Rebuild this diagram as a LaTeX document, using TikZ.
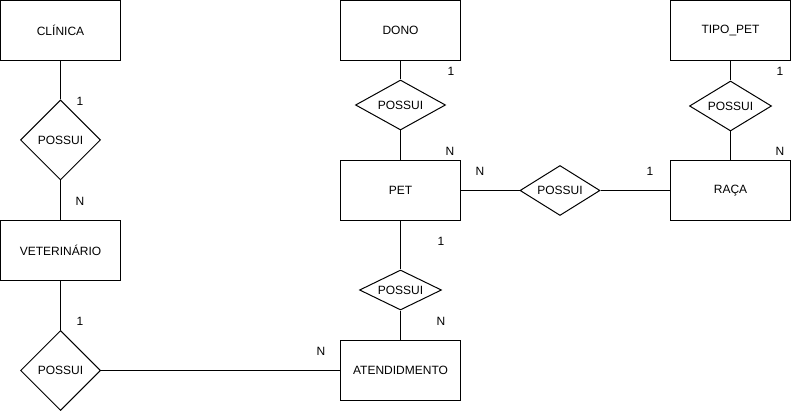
\documentclass[tikz,border=0pt]{standalone}
\usepackage{fontspec}
\setmainfont{Liberation Sans}
\usetikzlibrary{shapes.geometric}

\begin{document}
\begin{tikzpicture}[x=1pt,y=-1pt,line width=1pt,every node/.style={font=\fontsize{12}{14}\selectfont},
    entity/.style={draw,rectangle,minimum width=120pt,minimum height=60pt,inner sep=0pt},
    relation/.style={draw,diamond,aspect=1.6,inner sep=0pt},
    card/.style={inner sep=0pt,anchor=center}]
    \useasboundingbox (0,0) rectangle (792,411);
    \node[entity] (clinica) at (60.5,30.5) {CLÍNICA};
    \node[entity] (vet) at (60.5,250.5) {VETERINÁRIO};
    \node[entity] (dono) at (400.5,30.5) {DONO};
    \node[entity] (pet) at (400.5,190.5) {PET};
    \node[entity] (atend) at (400.5,370.5) {ATENDIDMENTO};
    \node[entity] (tipo) at (730.5,30.5) {TIPO\_PET};
    \node[entity] (raca) at (730.5,190.5) {RAÇA};
    \node[relation,minimum width=80pt,minimum height=80pt] (clinvet) at (60.5,140) {POSSUI};
    \node[relation,minimum width=90pt,minimum height=50pt] (donopet) at (400.5,105) {POSSUI};
    \node[relation,minimum width=82pt,minimum height=50pt] (tiporaca) at (730.5,106) {POSSUI};
    \node[relation,minimum width=80pt,minimum height=50pt] (petraca) at (560,190.5) {POSSUI};
    \node[relation,minimum width=82pt,minimum height=40pt] (petatend) at (400.5,290) {POSSUI};
    \node[relation,minimum width=80pt,minimum height=80pt] (vetatend) at (60.5,370.5) {POSSUI};
    \foreach \a/\b in {clinica/clinvet,clinvet/vet,vet/vetatend,vetatend/atend,dono/donopet,donopet/pet,pet/petraca,petraca/raca,pet/petatend,petatend/atend,tipo/tiporaca,tiporaca/raca} {
        \draw (\a) -- (\b);
    }
    \node[card] (c-clin) at (80,101) {1};
    \node[card] (c-vet1) at (80,201) {N};
    \node[card] (c-vet2) at (80,321) {1};
    \node[card] (c-atend1) at (321,351) {N};
    \node[card] (c-dono) at (451,71) {1};
    \node[card] (c-pet1) at (450,151) {N};
    \node[card] (c-pet2) at (480,171) {N};
    \node[card] (c-raca1) at (650,171) {1};
    \node[card] (c-pet3) at (441,241) {1};
    \node[card] (c-atend2) at (441,321) {N};
    \node[card] (c-tipo) at (780,71) {1};
    \node[card] (c-raca2) at (780,151) {N};
\end{tikzpicture}
\end{document}
